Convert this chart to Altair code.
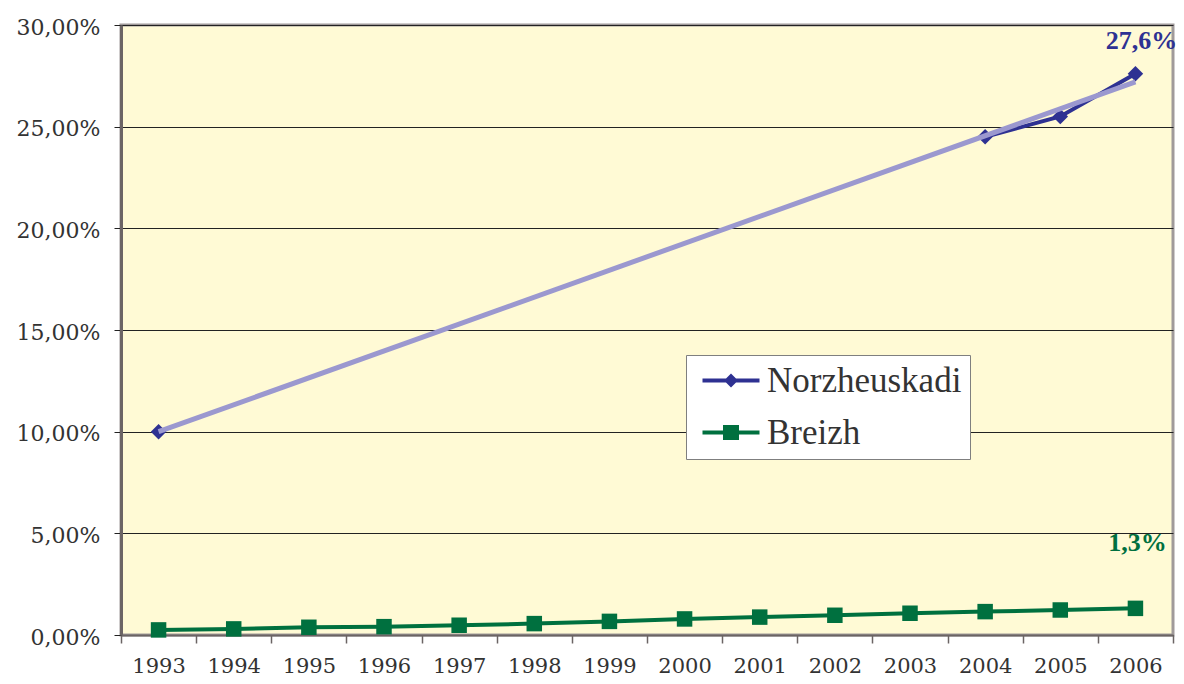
import altair as alt
import pandas as pd

# ---- data ----
years = [str(y) for y in range(1993, 2007)]
norz = [10.0, None, None, None, None, None, None, None, None, None, None, 24.5, 25.5, 27.6]
breizh = [0.25, 0.30, 0.38, 0.41, 0.48, 0.56, 0.67, 0.79, 0.88, 0.97, 1.07, 1.15, 1.23, 1.31]
series = ["Norzheuskadi", "Breizh"]
colors = ["#2E3192", "#00703F"]
trend_years = ["1993", "2006"]
trend_values = [10.0, 27.2]
label_years = ["2006", "2006"]
label_values = [27.6, 1.3]
label_texts = ["27,6%", "1,3%"]
y_ticks = [0, 5, 10, 15, 20, 25, 30]
legend_paths = [
    "M-2.85,-0.2H2.85V0.2H-2.85Z M0,-0.7L0.7,0L0,0.7L-0.7,0Z",
    "M-2.85,-0.2H2.85V0.2H-2.85Z M-0.8,-0.75H0.8V0.75H-0.8Z",
]

df = pd.DataFrame({
    "year": years * 2,
    "value": norz + breizh,
    "series": [series[0]] * len(years) + [series[1]] * len(years),
})
trend_df = pd.DataFrame({"year": trend_years, "value": trend_values})
lab_df = pd.DataFrame({"year": label_years, "value": label_values, "label": label_texts, "series": series})

x_axis = alt.Axis(
    labelAngle=0, tickBand="extent", labelFont="DejaVu Serif", labelFontSize=21,
    labelColor="#333333", labelBaseline="alphabetic", labelPadding=29,
    tickSize=8, tickColor="#6B6464", tickWidth=1.5,
    domainColor="#6B6464", domainWidth=2, grid=False, labelOverlap=False,
)
y_axis = alt.Axis(
    values=y_ticks,
    labelExpr="replace(format(datum.value, '.2f'), '.', ',') + '%'",
    labelFont="DejaVu Serif", labelFontSize=22, labelColor="#333333",
    labelPadding=14, labelOffset=2, tickSize=7, tickColor="#222222", tickWidth=1,
    grid=True, gridColor="#222222", gridWidth=1,
    domainColor="#6B6464", domainWidth=3,
)

X = alt.X("year:N", scale=alt.Scale(type="band", domain=years, paddingInner=0, paddingOuter=0),
          axis=x_axis, title=None)
Y = alt.Y("value:Q", scale=alt.Scale(domain=[0, 30], nice=False), axis=y_axis, title=None)
color_scale = alt.Scale(domain=series, range=colors)

legend_def = alt.Legend(
    title=None, orient="none", legendX=565, legendY=330,
    fillColor="white", strokeColor="#7F7F7F", padding=8,
    symbolSize=400, symbolStrokeWidth=0, symbolOpacity=1,
    symbolOffset=19.5, labelOffset=18.5, labelLimit=400,
    labelFont="Liberation Serif", labelFontSize=35, labelColor="#333333",
    rowPadding=16,
)

base = alt.Chart(df)

norz_line = base.transform_filter(alt.datum.series == series[0]).mark_line(
    strokeWidth=4, invalid="break-paths-show-path-domains"
).encode(x=X, y=Y, color=alt.Color("series:N", scale=color_scale, legend=None))

norz_pts = base.transform_filter(alt.datum.series == series[0]).mark_point(
    shape="diamond", filled=True, size=240, opacity=1
).encode(x=X, y=Y, color=alt.Color("series:N", scale=color_scale, legend=None))

br_line = base.transform_filter(alt.datum.series == series[1]).mark_line(
    strokeWidth=4
).encode(x=X, y=Y, color=alt.Color("series:N", scale=color_scale, legend=None))

br_pts = base.transform_filter(alt.datum.series == series[1]).mark_point(
    shape="square", filled=True, size=240, opacity=1
).encode(x=X, y=Y, color=alt.Color("series:N", scale=color_scale, legend=None))

trend = alt.Chart(trend_df).mark_line(color="#9B98CF", strokeWidth=5).encode(x=X, y=Y)

legend_layer = base.mark_point(filled=True, opacity=0, size=400).encode(
    x=X, y=Y,
    color=alt.Color("series:N", scale=color_scale, legend=legend_def),
    shape=alt.Shape("series:N", scale=alt.Scale(domain=series, range=legend_paths), legend=legend_def),
)

lab1 = alt.Chart(lab_df).transform_filter(alt.datum.series == series[0]).mark_text(
    font="Liberation Serif", fontWeight="bold", fontSize=26, color=colors[0], dx=6, dy=-33
).encode(x=X, y=Y, text="label:N")
lab2 = alt.Chart(lab_df).transform_filter(alt.datum.series == series[1]).mark_text(
    font="Liberation Serif", fontWeight="bold", fontSize=26, color=colors[1], dx=2, dy=-66
).encode(x=X, y=Y, text="label:N")

chart = alt.layer(
    legend_layer, norz_line, norz_pts, br_line, br_pts, trend, lab1, lab2
).properties(
    width=1052, height=610,
    autosize=alt.AutoSizeParams(type="none"),
    padding={"left": 113, "top": 17, "right": 3, "bottom": 41},
    background="white",
).configure_view(
    fill="#FFFAD5", stroke="#A09A9A", strokeWidth=3
)

chart.save("out.html", embed_options={"renderer": "svg", "actions": False})
